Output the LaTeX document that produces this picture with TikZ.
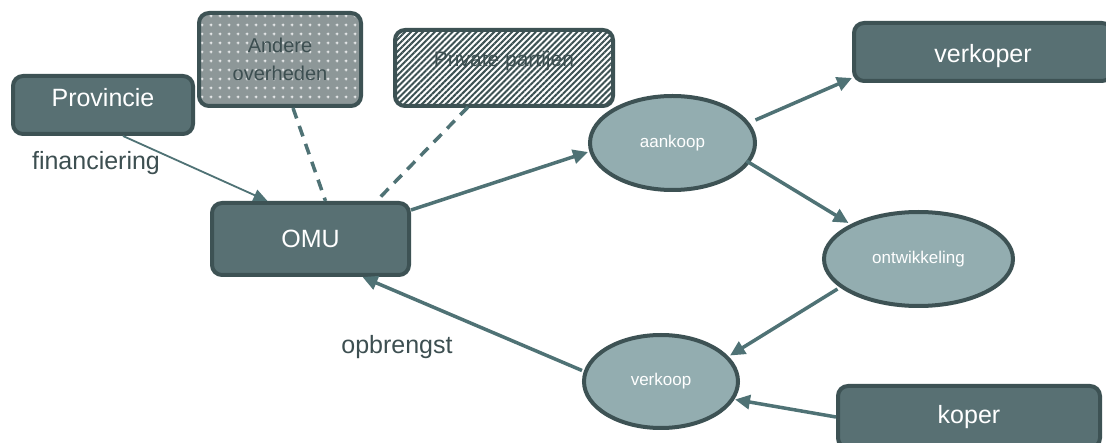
\documentclass[tikz,border=0pt]{standalone}
\usepackage{fontspec}
\setmainfont{Liberation Sans}
\usetikzlibrary{arrows.meta,patterns,patterns.meta,shapes.geometric,calc}
\definecolor{boxfill}{HTML}{587073}
\definecolor{boxline}{HTML}{3D5254}
\definecolor{ellfill}{HTML}{93ADB0}
\definecolor{arrcol}{HTML}{4F7275}
\definecolor{txtdark}{HTML}{3D4F51}
\definecolor{dotgray}{HTML}{8D9798}
\pgfdeclarepattern{
  name=plusgrid, type=uncolored,
  bottom left={\pgfpointorigin}, top right={\pgfpoint{9pt}{9pt}},
  tile size={\pgfpoint{9pt}{9pt}},
  code={
    \pgfpathrectangle{\pgfpoint{4pt}{3pt}}{\pgfpoint{1pt}{3pt}}
    \pgfpathrectangle{\pgfpoint{3pt}{4pt}}{\pgfpoint{3pt}{1pt}}
    \pgfusepath{fill}
  }}
\tikzset{
  box/.style={draw=boxline, line width=4pt, fill=boxfill, rounded corners=10pt,
    text=white, font=\fontsize{25}{30}\selectfont, inner sep=0pt},
  ell/.style={ellipse, draw=boxline, line width=4pt, fill=ellfill, text=white,
    font=\fontsize{17}{20}\selectfont, inner sep=0pt},
  dotbox/.style={draw=boxline, line width=4pt, rounded corners=10pt,
    preaction={fill=dotgray},
    pattern=plusgrid, pattern color=white!85!dotgray,
    text=txtdark, font=\fontsize{20}{28}\selectfont, inner sep=0pt, align=center},
  stripebox/.style={draw=boxline, line width=4pt, rounded corners=10pt,
    preaction={fill=white},
    pattern={Lines[angle=45,distance=4.2pt,line width=2pt]}, pattern color=boxline,
    inner sep=0pt},
  boxtxt/.style={text=txtdark, font=\fontsize{21}{25}\selectfont, inner sep=0pt},
  lab/.style={text=txtdark, font=\fontsize{25}{30}\selectfont, inner sep=0pt},
  arr/.style={draw=arrcol, line width=3.5pt, -{Triangle[length=15pt,width=14pt]}},
  thinarr/.style={draw=arrcol, line width=1.8pt, -{Triangle[length=14pt,width=12pt]}},
  dline/.style={draw=arrcol, line width=3.5pt, dash pattern=on 11pt off 8pt},
}
\begin{document}
\begin{tikzpicture}[x=1pt,y=-1pt]
\useasboundingbox (0,0) rectangle (1106,443);
\fill[white] (0,0) rectangle (1106,443);

% nodes
\node[box, minimum width=180pt, minimum height=58pt, text depth=16pt] (prov) at (103,105) {Provincie};
\node[box, minimum width=197pt, minimum height=72pt] (omu) at (310.5,239) {OMU};
\node[dotbox, minimum width=162pt, minimum height=93pt] (andere) at (280,59.5) {Andere\\overheden};
\node[stripebox, minimum width=218pt, minimum height=76pt] (pp) at (504,68) {};
\node[boxtxt] (ppt) at (504,61) {Private partijen};
\node[box, minimum width=258pt, minimum height=58pt, text height=26pt, text depth=5pt] (vkr) at (983,52) {verkoper};
\node[box, minimum width=262pt, minimum height=62pt] (kop) at (969,417) {koper};
\node[ell, minimum width=165pt, minimum height=94pt] (aan) at (672.5,143) {aankoop};
\node[ell, minimum width=189pt, minimum height=94pt] (ontw) at (918.5,259) {ontwikkeling};
\node[ell, minimum width=154pt, minimum height=93pt] (vkp) at (661,381.5) {verkoop};

% labels
\node[lab, anchor=base] (fin) at (96,170) {financiering};
\node[lab, anchor=base] (opb) at (397,354) {opbrengst};

% connectors
\draw[thinarr] ([xshift=20pt]prov.south) -- ([xshift=-43pt]omu.north);
\draw[dline] ([xshift=13pt]andere.south) -- ([xshift=15pt]omu.north);
\draw[dline] ([xshift=-36pt]pp.south) -- ([xshift=66pt]omu.north);
\draw[arr] ([yshift=-9pt]omu.north east) -- ([yshift=-9pt]aan.west);
\draw[arr] ([shift={(83pt,23pt)}]aan.center) -- ([yshift=-26pt]vkr.west);
\draw[arr] ([shift={(74pt,-18pt)}]aan.center) -- ([shift={(-70pt,36pt)}]ontw.center);
\draw[arr] ([shift={(-81pt,-30pt)}]ontw.center) -- ([shift={(69pt,26pt)}]vkp.center);
\draw[arr] (kop.west) -- ([shift={(74pt,-18pt)}]vkp.center);
\draw[arr] ([shift={(-79pt,11pt)}]vkp.center) -- ([xshift=52pt]omu.south);
\end{tikzpicture}
\end{document}
